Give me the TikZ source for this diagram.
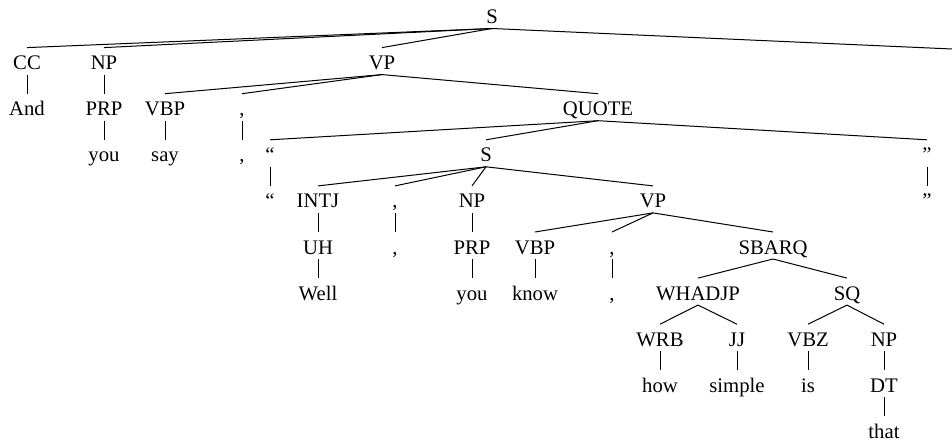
\documentclass[tikz,border=0pt]{standalone}
\usepackage{fontspec}
\setmainfont{Liberation Serif}
\begin{document}
\begin{tikzpicture}[x=1pt,y=-1pt,
  lbl/.style={inner sep=0pt,anchor=base,font=\fontsize{20.7}{24}\selectfont},
  edge/.style={line width=1pt}]
\useasboundingbox (0,0) rectangle (952,441);
% level 1
\node[lbl] (s) at (492,23.5) {S};
% level 2
\node[lbl] (cc) at (27,69.6) {CC};
\node[lbl] (np) at (104,69.6) {NP};
\node[lbl] (vp) at (382,69.6) {VP};
\coordinate (off) at (952,49);
% level 3
\node[lbl] (and) at (27,115.7) {And};
\node[lbl] (prp) at (104,115.7) {PRP};
\node[lbl] (vbp) at (165,115.7) {VBP};
\node[lbl] (c1) at (242,115.7) {,};
\node[lbl] (quote) at (598,115.7) {QUOTE};
% level 4
\node[lbl] (you) at (104,161.8) {you};
\node[lbl] (say) at (165,161.8) {say};
\node[lbl] (c1w) at (242,161.8) {,};
\node[lbl] (oq) at (270,161.8) {“};
\node[lbl] (s2) at (486,161.8) {S};
\node[lbl] (cq) at (927,161.8) {”};
% level 5
\node[lbl] (oqw) at (270,207.9) {“};
\node[lbl] (intj) at (318,207.9) {INTJ};
\node[lbl] (c2) at (395,207.9) {,};
\node[lbl] (np2) at (472,207.9) {NP};
\node[lbl] (vp2) at (653,207.9) {VP};
\node[lbl] (cqw) at (927,207.9) {”};
% level 6
\node[lbl] (uh) at (318,254) {UH};
\node[lbl] (c2w) at (395,254) {,};
\node[lbl] (prp2) at (472,254) {PRP};
\node[lbl] (vbp2) at (535,254) {VBP};
\node[lbl] (c3) at (612,254) {,};
\node[lbl] (sbarq) at (773,254) {SBARQ};
% level 7
\node[lbl] (well) at (318,300.1) {Well};
\node[lbl] (you2) at (472,300.1) {you};
\node[lbl] (know) at (535,300.1) {know};
\node[lbl] (c3w) at (612,300.1) {,};
\node[lbl] (whadjp) at (698,300.1) {WHADJP};
\node[lbl] (sq) at (847,300.1) {SQ};
% level 8
\node[lbl] (wrb) at (660,346.2) {WRB};
\node[lbl] (jj) at (737,346.2) {JJ};
\node[lbl] (vbz) at (808,346.2) {VBZ};
\node[lbl] (np3) at (884,346.2) {NP};
% level 9
\node[lbl] (how) at (660,392.3) {how};
\node[lbl] (simple) at (737,392.3) {simple};
\node[lbl] (is) at (808,392.3) {is};
\node[lbl] (dt) at (884,392.3) {DT};
% level 10
\node[lbl] (that) at (884,438) {that};
% edges
\foreach \p/\c in {s/cc,s/np,s/vp,cc/and,np/prp,prp/you,vp/vbp,vp/c1,vp/quote,
  vbp/say,c1/c1w,quote/oq,quote/s2,quote/cq,oq/oqw,cq/cqw,
  s2/intj,s2/c2,s2/np2,s2/vp2,intj/uh,uh/well,c2/c2w,np2/prp2,prp2/you2,
  vp2/vbp2,vp2/c3,vp2/sbarq,vbp2/know,c3/c3w,sbarq/whadjp,sbarq/sq,
  whadjp/wrb,whadjp/jj,wrb/how,jj/simple,sq/vbz,sq/np3,vbz/is,np3/dt,dt/that}
  \draw[edge] ([yshift=-5pt]\p.base) -- ([yshift=22pt]\c.base);
\draw[edge] ([yshift=-5pt]s.base) -- (off);
\end{tikzpicture}
\end{document}
